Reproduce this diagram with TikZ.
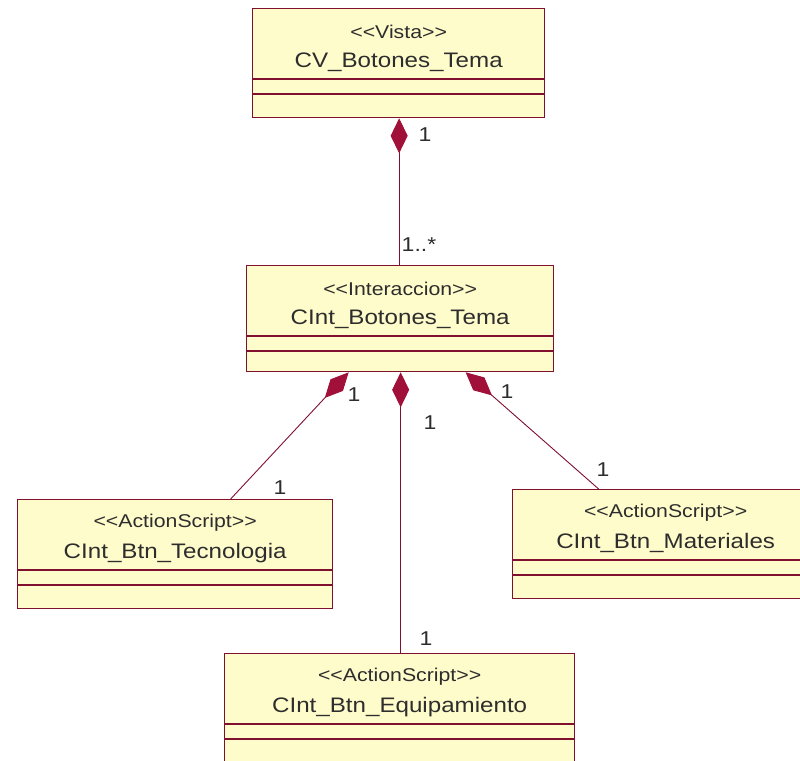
\documentclass[tikz,border=0pt]{standalone}
\usepackage{fontspec}
\newfontfamily\umlfont[FakeStretch=1.15]{Liberation Sans}
\usetikzlibrary{arrows.meta}
\definecolor{classfill}{RGB}{255,252,204}
\definecolor{classline}{RGB}{128,16,48}
\definecolor{compfill}{RGB}{160,16,56}
\definecolor{inktext}{RGB}{45,45,45}

\tikzset{
  classbox/.style={draw=classline, fill=classfill, line width=1.3pt, rectangle,
    anchor=north west, inner sep=0pt},
  stereo/.style={font=\umlfont\fontsize{18.5}{18.5}\selectfont, text=inktext, inner sep=0pt},
  cname/.style={font=\umlfont\fontsize{21}{21}\selectfont, text=inktext, inner sep=0pt},
  compline/.style={draw=classline, line width=1.3pt},
  composition/.style={draw=classline, line width=0.9pt,
    {Diamond[length=35pt,width=17pt,fill=compfill,color=compfill]}-},
  mult/.style={font=\umlfont\fontsize{20}{20}\selectfont, text=inktext, inner sep=0pt},
}

% UML class: name, x, y (top left), width, height, stereotype, title
\newcommand\umlclass[7]{%
  \node[classbox, minimum width=#4pt, minimum height=#5pt] (#1) at (#2,#3) {};
  \node[stereo] (#1-st) at ([yshift=-24pt]#1.north) {#6};
  \node[cname] (#1-nm) at ([yshift=-54pt]#1.north) {#7};
  \draw[compline] ([yshift=-71pt]#1.north west) -- ([yshift=-71pt]#1.north east);
  \draw[compline] ([yshift=-86pt]#1.north west) -- ([yshift=-86pt]#1.north east);
}

\begin{document}
\begin{tikzpicture}[x=1pt,y=-1pt]
  \useasboundingbox (0,0) rectangle (800,760);
  \clip (0,0) rectangle (800,760);
  \fill[white] (0,0) rectangle (800,760);

  \umlclass{vista}{252}{8}{292}{109}{<<Vista>>}{CV\_Botones\_Tema}
  \umlclass{inter}{246}{265}{307}{106}{<<Interaccion>>}{CInt\_Botones\_Tema}
  \umlclass{tecno}{17}{499}{315}{109}{<<ActionScript>>}{CInt\_Btn\_Tecnologia}
  \umlclass{mater}{512}{489}{306}{109}{<<ActionScript>>}{CInt\_Btn\_Materiales}
  \umlclass{equip}{224}{653}{350}{130}{<<ActionScript>>}{CInt\_Btn\_Equipamiento}

  % compositions
  \draw[composition] ([xshift=0.5pt]vista.south) -- ([xshift=0.5pt]vista.south |- inter.north);
  \draw[composition] ([xshift=-51.5pt]inter.south) -- ([xshift=55.5pt]tecno.north);
  \draw[composition] ([xshift=0.5pt]inter.south) -- ([xshift=0.5pt]inter.south |- equip.north);
  \draw[composition] ([xshift=65.5pt]inter.south) -- ([xshift=-67pt]mater.north);

  % multiplicities
  \node[mult] (m1) at (425,135) {1};
  \node[mult] (m2) at (419,245) {1..*};
  \node[mult] (m3) at (354,395) {1};
  \node[mult] (m4) at (280,488) {1};
  \node[mult] (m5) at (430,423) {1};
  \node[mult] (m6) at (426,639) {1};
  \node[mult] (m7) at (507,392) {1};
  \node[mult] (m8) at (603,470) {1};
\end{tikzpicture}
\end{document}
